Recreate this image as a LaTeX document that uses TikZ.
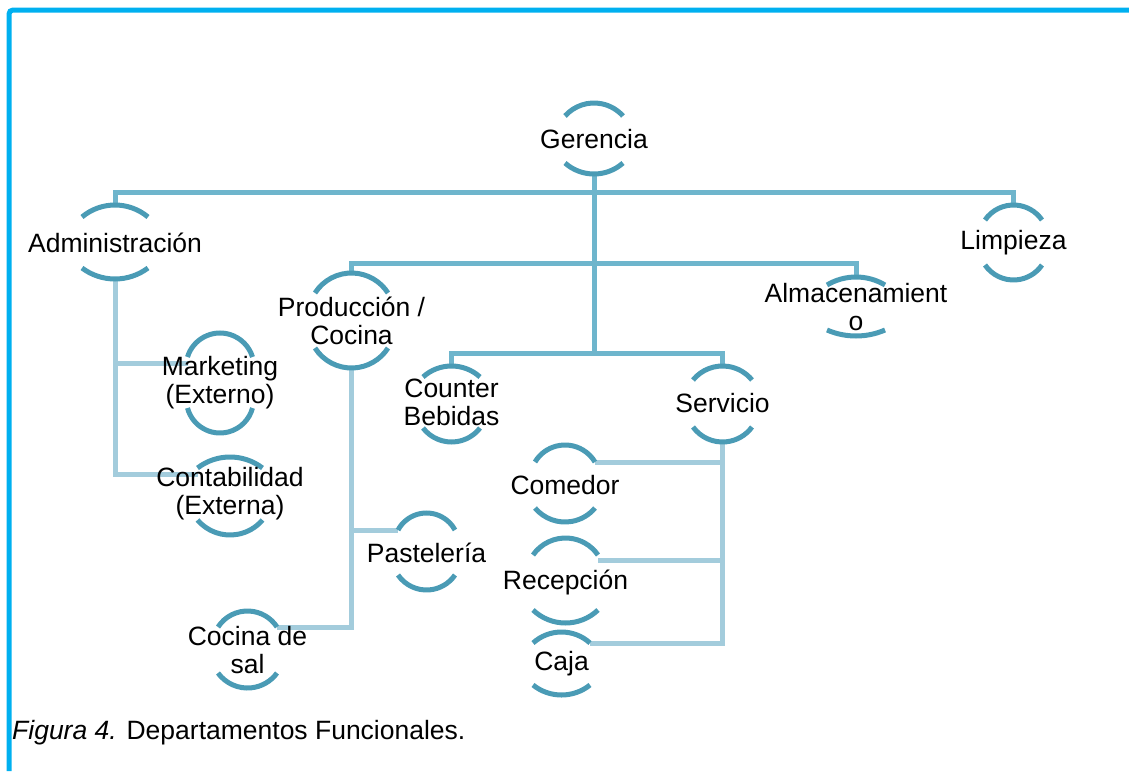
\documentclass[tikz,border=0pt]{standalone}
\usepackage{fontspec}
\setmainfont{Liberation Sans}
\usetikzlibrary{calc}
\pgfdeclarelayer{back}
\pgfsetlayers{back,main}

\definecolor{framecyan}{HTML}{00B0F0}
\definecolor{linktop}{HTML}{6EB5CC}
\definecolor{linksub}{HTML}{A3CCDC}
\definecolor{arcteal}{HTML}{4A9BB5}

\tikzset{
	deptarc/.style={draw=arcteal, line width=5pt},
	depttext/.style={inner sep=0pt, align=center, font=\fontsize{26.5}{28}\selectfont},
	topline/.style={draw=linktop, line width=5pt},
	subline/.style={draw=linksub, line width=5pt},
	frameline/.style={draw=framecyan, line width=5pt, rounded corners=4pt},
}

% name, x, y, half width, half gap, top bend, bottom bend, text
\newcommand{\dept}[8]{%
	\coordinate (#1-tl) at (#2-#4,#3-#5);
	\coordinate (#1-tr) at (#2+#4,#3-#5);
	\coordinate (#1-bl) at (#2-#4,#3+#5);
	\coordinate (#1-br) at (#2+#4,#3+#5);
	\coordinate (#1-t) at (#2,#3-#5-#6);
	\coordinate (#1-b) at (#2,#3+#5+#7);
	\pgfmathsetmacro\arcrad{(#4*#4+#6*#6)/(2*#6)}
	\pgfmathsetmacro\arcang{asin(#4/\arcrad)}
	\draw[deptarc] (#1-tl) arc[start angle=270-\arcang, end angle=270+\arcang, radius=\arcrad];
	\pgfmathsetmacro\arcrad{(#4*#4+#7*#7)/(2*#7)}
	\pgfmathsetmacro\arcang{asin(#4/\arcrad)}
	\draw[deptarc] (#1-bl) arc[start angle=90+\arcang, end angle=90-\arcang, radius=\arcrad];
	\node[depttext] (#1) at (#2,#3) {#8};
}

\begin{document}
\begin{tikzpicture}[x=1pt,y=-1pt]
			%%%%% START %%%%%
			\useasboundingbox (0,0) rectangle (1129,771);
			
			\draw[frameline] (9,771) |- (1129,10);
			
			\dept{ger}{594}{139.5}{29}{23.5}{13}{11}{Gerencia}
			\dept{adm}{115}{242.5}{33}{25.5}{12}{11}{Administración}
			\dept{lim}{1013.5}{242.5}{28.5}{22.5}{15}{15}{Limpieza}
			\dept{pro}{351.5}{320.5}{36.5}{27.5}{20}{20}{Producción /\\Cocina}
			\dept{alm}{856}{307.5}{29}{22.5}{8}{6}{Almacenamient\\o}
			\dept{cnt}{451.5}{402.5}{28.5}{25.5}{11}{14}{Counter\\Bebidas}
			\dept{srv}{722.5}{403.5}{29.5}{23.5}{14}{15}{Servicio}
			
			\dept{mkt}{220}{382.5}{32.5}{25.5}{24}{25}{Marketing\\(Externo)}
			\dept{cont}{230}{494}{32.5}{26}{11}{15}{Contabilidad\\(Externa)}
			
			\dept{pas}{426.5}{552.5}{28.5}{22.5}{17}{15}{Pastelería}
			\dept{coc}{247.5}{650}{29.5}{23}{16}{15}{Cocina de\\sal}
			
			\dept{com}{565}{485}{30}{23}{17}{14}{Comedor}
			\dept{rec}{565.5}{582.5}{32.5}{27.5}{17}{13}{Recepción}
			\dept{caj}{561.5}{664}{28.5}{21}{11}{10}{Caja}
			
			\coordinate (j1) at (594,192);
			\coordinate (j2) at (594,263);
			\coordinate (j3) at (594,353);
			
			\begin{pgfonlayer}{back}
			\draw[topline] (ger-b) -- (j3);
			\draw[topline] (adm-t) |- (j1) -| (lim-t);
			\draw[topline] (pro-t) |- (j2) -| (alm-t);
			\draw[topline] (cnt-t) |- (j3) -| (srv-t);
			
			\draw[subline] (adm-b) |- ([yshift=-6pt]mkt-tl);
			\draw[subline] (adm-b) |- ([yshift=-6pt]cont-tl);
			\draw[subline] (pro-b) |- (pas-tl);
			\draw[subline] (pro-b) |- (coc-tr);
			\draw[subline] (srv-b) |- (com-tr);
			\draw[subline] (srv-b) |- ([yshift=-5pt]rec-tr);
			\draw[subline] (srv-b) |- (caj-tr);
			\end{pgfonlayer}
			
			\node[depttext, anchor=west] (cap) at (12,733) {\textit{Figura 4.} Departamentos Funcionales.};
			
			%%%%% END %%%%%
\end{tikzpicture}
\end{document}
